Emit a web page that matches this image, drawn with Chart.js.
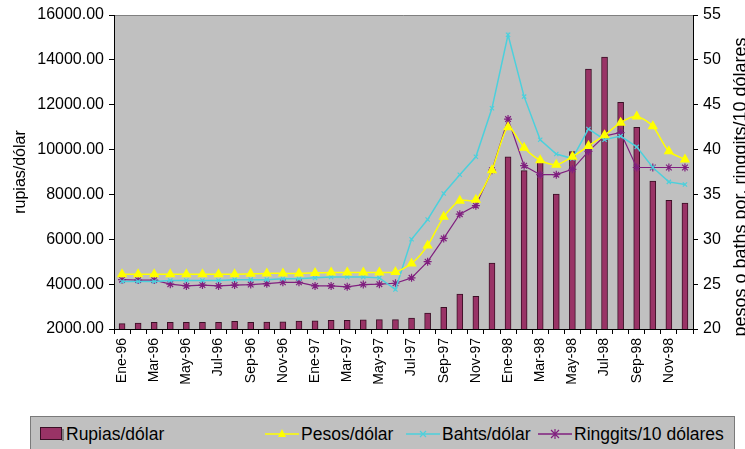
<!DOCTYPE html>
<html>
<head>
<meta charset="utf-8">
<script src="https://cdn.jsdelivr.net/npm/chart.js@4.4.0/dist/chart.umd.min.js"></script>
<style>
  html, body { margin: 0; padding: 0; background: #fff; }
  #wrap { position: relative; width: 745px; height: 449px; overflow: hidden; }
  #legend {
    position: absolute; left: 30px; top: 416px; width: 705px; height: 40px;
    background: #c0c0c0; border: 1px solid #7a7a7a; box-sizing: border-box;
    font-family: "Liberation Sans", Arial, sans-serif; font-size: 17.5px; color: #000;
  }
  .item { position: absolute; top: 5px; height: 24px; display: flex; align-items: center; white-space: nowrap; }
  .item svg { margin-right: 2px; }
</style>
</head>
<body>
<div id="wrap">
  <canvas id="myChart" width="745" height="449"></canvas>
  <div id="legend">
    <div class="item" style="left:9px">
      <svg width="24" height="14"><rect x="0.5" y="0.5" width="21" height="12" fill="#993366" stroke="#3a0f25"/><rect x="22" y="2" width="2" height="12" fill="#808080"/></svg>
      <span>Rupias/dólar</span>
    </div>
    <div class="item" style="left:234px">
      <svg width="34" height="14"><line x1="0" y1="7" x2="34" y2="7" stroke="#ffff00" stroke-width="1.5"/><polygon points="17,2 21,10 13,10" fill="#ffff00"/></svg>
      <span>Pesos/dólar</span>
    </div>
    <div class="item" style="left:375px">
      <svg width="34" height="14"><line x1="0" y1="7" x2="34" y2="7" stroke="#4cd0dc" stroke-width="1.5"/><path d="M14 4 L20 10 M20 4 L14 10" stroke="#4cd0dc" stroke-width="1.2"/></svg>
      <span>Bahts/dólar</span>
    </div>
    <div class="item" style="left:507px">
      <svg width="34" height="14"><line x1="0" y1="7" x2="34" y2="7" stroke="#80207f" stroke-width="1.5"/><path d="M13 3 L21 11 M21 3 L13 11 M17 2 L17 12" stroke="#80207f" stroke-width="1.2"/></svg>
      <span>Ringgits/10 dólares</span>
    </div>
  </div>
</div>
<script>
  "use strict";

  // meses Ene-96 .. Dic-98
  const meses = ['Ene', 'Feb', 'Mar', 'Abr', 'May', 'Jun', 'Jul', 'Ago', 'Sep', 'Oct', 'Nov', 'Dic'];
  const anios = ['96', '97', '98'];
  const labels = [];
  anios.forEach(a => meses.forEach(m => labels.push(m + '-' + a)));

  const rupias = [2240, 2260, 2300, 2300, 2300, 2300, 2300, 2340, 2300, 2310, 2320, 2350,
                  2360, 2390, 2390, 2410, 2420, 2420, 2490, 2710, 2970, 3560, 3460, 4940,
                  9680, 9060, 9490, 8020, 9910, 13590, 14120, 12110, 10990, 8600, 7740, 7610];

  const pesos = [26.1, 26.1, 26.1, 26.1, 26.1, 26.1, 26.1, 26.1, 26.15, 26.2, 26.2, 26.2,
                 26.25, 26.3, 26.3, 26.3, 26.3, 26.35, 27.3, 29.3, 32.5, 34.3, 34.4, 37.7,
                 42.5, 40.2, 38.8, 38.3, 39.2, 40.4, 41.6, 43.0, 43.7, 42.6, 39.8, 38.9];

  const bahts = [25.3, 25.3, 25.3, 25.4, 25.4, 25.4, 25.4, 25.5, 25.5, 25.5, 25.6, 25.6,
                 25.7, 25.8, 25.8, 25.8, 25.7, 24.4, 30.0, 32.2, 35.1, 37.2, 39.2, 44.6,
                 52.8, 45.9, 41.1, 39.5, 39.0, 42.3, 41.1, 41.5, 40.3, 38.0, 36.4, 36.1];

  const ringgits = [25.5, 25.45, 25.45, 25.0, 24.8, 24.9, 24.8, 24.9, 24.95, 25.05, 25.2, 25.2,
                    24.8, 24.8, 24.7, 24.95, 25.0, 25.1, 25.7, 27.5, 30.1, 32.8, 33.75, 37.7,
                    43.4, 38.2, 37.2, 37.2, 37.8, 39.8, 41.5, 41.9, 38.0, 38.0, 38.0, 38.0];

  const leftTitle = 'rupias/dólar';
  const rightTitle = 'pesos o baths por. ringgits/10 dólares';
  const fontFam = '"Liberation Sans", Arial, sans-serif';

  // fondo gris del area de trazado
  const plotBg = {
    id: 'plotBg',
    beforeDraw(chart) {
      const { ctx, chartArea: a } = chart;
      ctx.save();
      ctx.fillStyle = '#c0c0c0';
      ctx.fillRect(a.left, a.top, a.right - a.left, a.bottom - a.top);
      ctx.strokeStyle = '#808080';
      ctx.lineWidth = 1;
      ctx.beginPath();
      ctx.moveTo(a.left, a.top + 0.5);
      ctx.lineTo(a.right, a.top + 0.5);
      ctx.stroke();
      ctx.restore();
    }
  };

  // titulo del eje derecho, leido de abajo hacia arriba
  const rightTitlePlugin = {
    id: 'rightTitle',
    afterDraw(chart) {
      const ctx = chart.ctx;
      ctx.save();
      ctx.translate(741, 187);
      ctx.rotate(-Math.PI / 2);
      ctx.font = '18px ' + fontFam;
      ctx.textAlign = 'center';
      ctx.textBaseline = 'middle';
      ctx.fillStyle = '#000';
      ctx.fillText(rightTitle, 0, 0);
      ctx.restore();
    }
  };

  const config = {
    type: 'bar',
    data: {
      labels: labels,
      datasets: [
        {
          type: 'line',
          label: 'Pesos/dólar',
          data: pesos,
          yAxisID: 'y1',
          borderColor: '#ffff00',
          backgroundColor: '#ffff00',
          borderWidth: 1.5,
          tension: 0.25,
          pointStyle: 'triangle',
          pointRadius: 4.5,
          pointBorderColor: '#ffff00',
          pointBackgroundColor: '#ffff00',
          order: 1
        },
        {
          type: 'line',
          label: 'Bahts/dólar',
          data: bahts,
          yAxisID: 'y1',
          borderColor: '#4cd0dc',
          backgroundColor: '#4cd0dc',
          borderWidth: 1.5,
          pointStyle: 'crossRot',
          pointRadius: 3,
          pointBorderWidth: 1.2,
          pointBorderColor: '#4cd0dc',
          order: 2
        },
        {
          type: 'line',
          label: 'Ringgits/10 dólares',
          data: ringgits,
          yAxisID: 'y1',
          borderColor: '#80207f',
          backgroundColor: '#80207f',
          borderWidth: 1.2,
          pointStyle: 'star',
          pointRadius: 4,
          pointBorderWidth: 1.2,
          pointBorderColor: '#80207f',
          order: 3
        },
        {
          type: 'bar',
          label: 'Rupias/dólar',
          data: rupias,
          yAxisID: 'y',
          backgroundColor: '#993366',
          borderColor: '#3a0f25',
          borderWidth: 1,
          barThickness: 6,
          order: 4
        }
      ]
    },
    options: {
      responsive: false,
      animation: false,
      layout: { padding: { top: 15, left: 0, right: 0, bottom: 0 } },
      plugins: {
        legend: { display: false },
        tooltip: { enabled: false }
      },
      scales: {
        x: {
          offset: true,
          grid: { display: true, drawOnChartArea: false, tickLength: 5, color: '#000', offset: true },
          border: { color: '#000' },
          ticks: {
            autoSkip: false,
            minRotation: 90,
            maxRotation: 90,
            padding: 4,
            color: '#000',
            font: { family: fontFam, size: 14 },
            callback: function (value, index) {
              return index % 2 === 0 ? this.getLabelForValue(value) : '';
            }
          },
          afterFit: function (scale) { scale.height = 120; }
        },
        y: {
          position: 'left',
          min: 2000,
          max: 16000,
          grid: { drawOnChartArea: false, tickLength: 5, color: '#000' },
          border: { color: '#000' },
          ticks: {
            stepSize: 2000,
            padding: 5,
            color: '#000',
            font: { family: fontFam, size: 16 },
            callback: v => v.toFixed(2)
          },
          title: {
            display: true,
            text: leftTitle,
            color: '#000',
            font: { family: fontFam, size: 16 },
            padding: { top: 11, bottom: 0 }
          },
          afterFit: function (scale) { scale.width = 114; }
        },
        y1: {
          position: 'right',
          min: 20,
          max: 55,
          grid: { drawOnChartArea: false, tickLength: 5, color: '#000' },
          border: { color: '#000' },
          ticks: {
            stepSize: 5,
            padding: 5,
            color: '#000',
            font: { family: fontFam, size: 16 }
          },
          afterFit: function (scale) { scale.width = 52; }
        }
      }
    },
    plugins: [plotBg, rightTitlePlugin]
  };

  const myChart = new Chart(document.getElementById('myChart'), config);
</script>
</body>
</html>
